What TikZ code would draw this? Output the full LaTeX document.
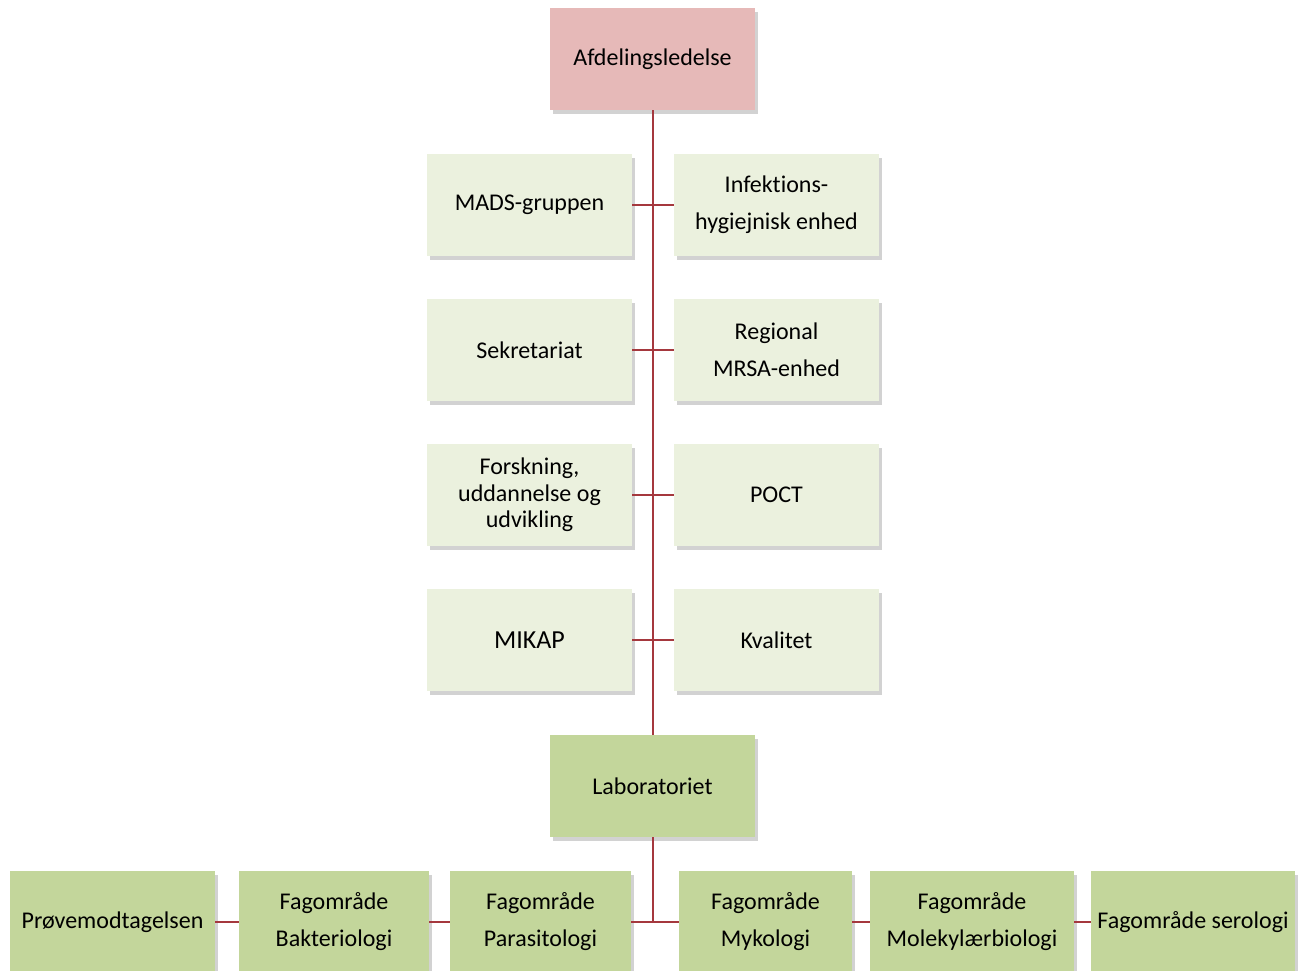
\documentclass[tikz,border=0pt]{standalone}
\usepackage{fontspec}
\setmainfont{Carlito}[Ligatures=NoCommon]
\usepackage{tikz}
\usetikzlibrary{shadows}

\definecolor{ledelsepink}{HTML}{E6B9B8}
\definecolor{stabgreen}{HTML}{EBF1DE}
\definecolor{labgreen}{HTML}{C3D69B}
\definecolor{linjered}{HTML}{A5383E}

\tikzset{
  boks/.style={rectangle, draw=none, minimum width=205pt, minimum height=102pt, align=center,
    font=\fontsize{24}{37}\selectfont,
    drop shadow={shadow xshift=3pt, shadow yshift=-4pt, opacity=0.25, fill=black!70}},
  ledelseboks/.style={boks, fill=ledelsepink},
  stabboks/.style={boks, fill=stabgreen},
  labboks/.style={boks, fill=labgreen},
  linje/.style={draw=linjered, line width=2pt}
}

\begin{document}
\begin{tikzpicture}[x=1pt, y=-1pt]
			\useasboundingbox (0, 0) rectangle (1301, 970);
			\node[ledelseboks] (ledelse) at (652.5, 59) {Afdelingsledelse};
			\node[stabboks] (mads) at (529.5, 205) {MADS-gruppen};
			\node[stabboks] (infektion) at (776.5, 205) {Infektions-\\hygiejnisk enhed};
			\node[stabboks] (sekretariat) at (529.5, 350) {Sekretariat};
			\node[stabboks] (mrsa) at (776.5, 350) {Regional\\MRSA-enhed};
			\node[stabboks, font=\fontsize{24}{26.5}\selectfont] (forskning) at (529.5, 495) {Forskning,\\uddannelse og\\udvikling};
			\node[stabboks] (poct) at (776.5, 495) {POCT};
			\node[stabboks, font=\fontsize{26}{30}\selectfont] (mikap) at (529.5, 640) {MIKAP};
			\node[stabboks] (kvalitet) at (776.5, 640) {Kvalitet};
			\node[labboks] (lab) at (652.5, 786) {Laboratoriet};
			\node[labboks] (prove) at (112.5, 922) {Prøvemodtagelsen};
			\node[labboks, minimum width=190pt] (bakt) at (334, 922) {Fagområde\\Bakteriologi};
			\node[labboks, minimum width=181pt] (para) at (540.5, 922) {Fagområde\\Parasitologi};
			\node[labboks, minimum width=173pt] (myko) at (765.5, 922) {Fagområde\\Mykologi};
			\node[labboks, minimum width=204pt] (molek) at (972, 922) {Fagområde\\Molekylærbiologi};
			\node[labboks, minimum width=204pt] (sero) at (1193, 922) {Fagområde serologi};
			\draw[linje] (ledelse.south) -- (lab.north);
			\draw[linje] (mads.east) -- (infektion.west);
			\draw[linje] (sekretariat.east) -- (mrsa.west);
			\draw[linje] (forskning.east) -- (poct.west);
			\draw[linje] (mikap.east) -- (kvalitet.west);
			\draw[linje] (lab.south) -- (lab.south |- para.east);
			\draw[linje] (prove.east) -- (bakt.west);
			\draw[linje] (bakt.east) -- (para.west);
			\draw[linje] (para.east) -- (myko.west);
			\draw[linje] (myko.east) -- (molek.west);
			\draw[linje] (molek.east) -- (sero.west);
		\end{tikzpicture}
\end{document}
